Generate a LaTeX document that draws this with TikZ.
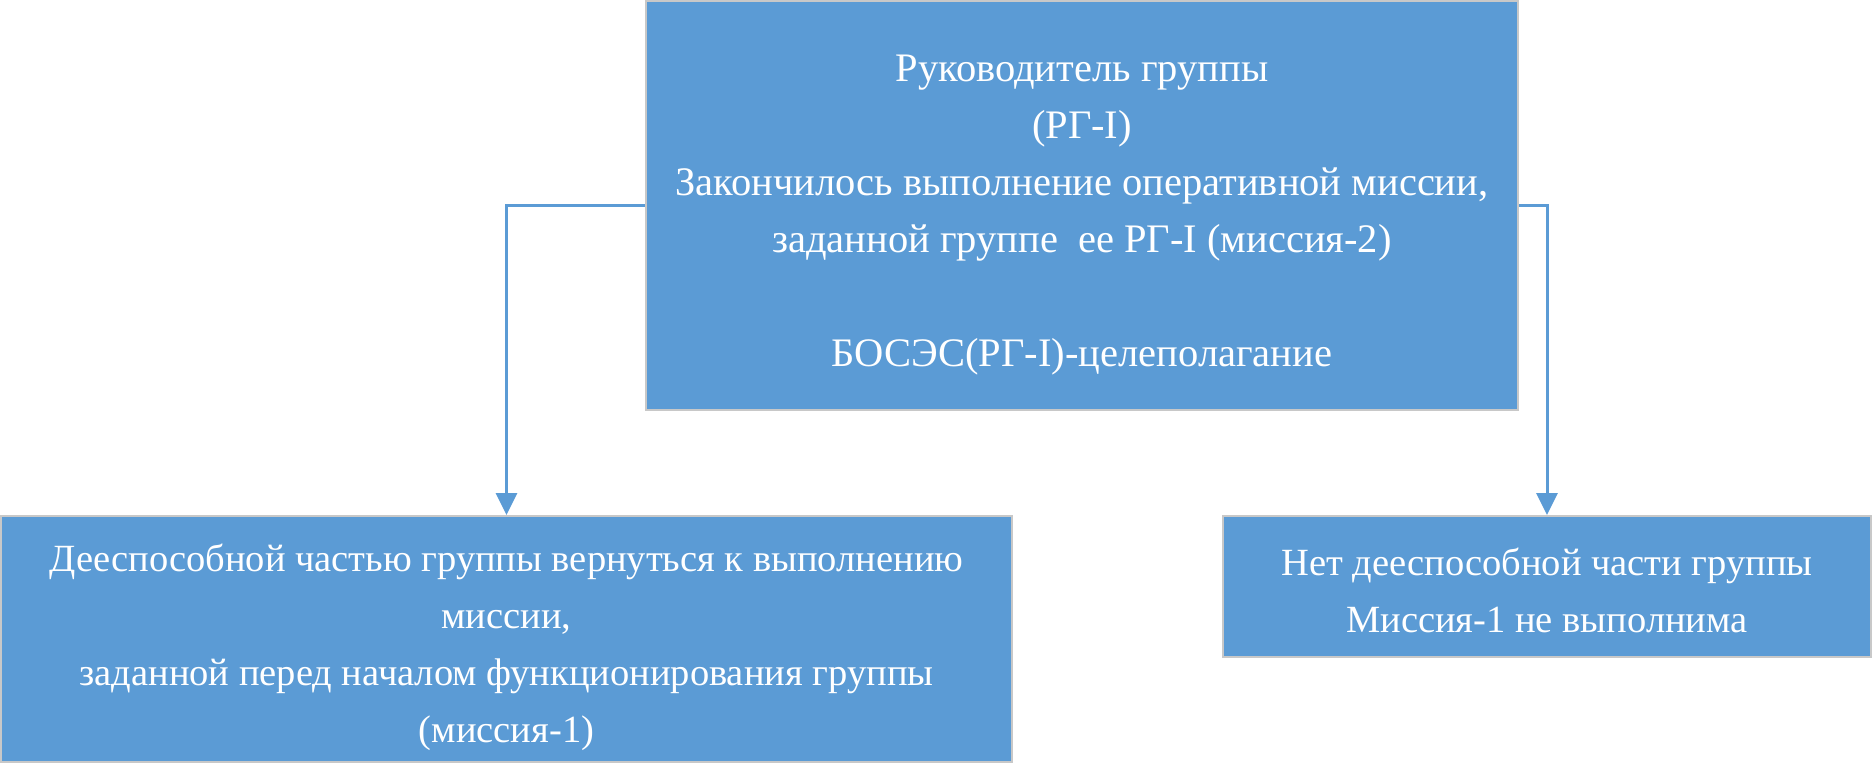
\documentclass[tikz,border=0pt]{standalone}
\usepackage{fontspec}
\setmainfont{Liberation Serif}
\usetikzlibrary{arrows.meta}
\definecolor{boxblue}{HTML}{5B9BD5}
\definecolor{boxedge}{HTML}{C8C8C8}
\tikzset{
  box/.style={rectangle, fill=boxblue, draw=boxedge, line width=2pt, inner sep=0pt},
  boxtext/.style={inner sep=0pt, text=white, align=center, font=\fontsize{38.5}{57}\selectfont},
  conn/.style={draw=boxblue, line width=3pt, -{Triangle[width=21pt,length=22pt]}}
}
\begin{document}
\begin{tikzpicture}[x=1pt,y=-1pt]
\useasboundingbox (0,0) rectangle (1873,764);
\node[box, minimum width=872pt, minimum height=409pt] (top) at (1082,205.5) {};
\node[box, minimum width=1011pt, minimum height=246pt] (left) at (506.5,639) {};
\node[box, minimum width=648pt, minimum height=141pt] (right) at (1547,586.5) {};
\node[boxtext, font=\fontsize{40.5}{57}\selectfont] (topT) at ([yshift=-10pt]top.center)
  {Руководитель группы\\(РГ-I)\\Закончилось выполнение оперативной миссии,\\заданной группе\ \ ее РГ-I (миссия-2)\\ ~ \\БОСЭС(РГ-I)-целеполагание};
\node[boxtext] (leftT) at ([yshift=-8pt]left.center)
  {Дееспособной частью группы вернуться к выполнению\\миссии,\\заданной перед началом функционирования группы\\(миссия-1)};
\node[boxtext] (rightT) at ([yshift=-4pt]right.center)
  {Нет дееспособной части группы\\Миссия-1 не выполнима};
\draw[conn] (top.west) -| (left.north);
\draw[conn] (top.east) -| (right.north);
\end{tikzpicture}
\end{document}
